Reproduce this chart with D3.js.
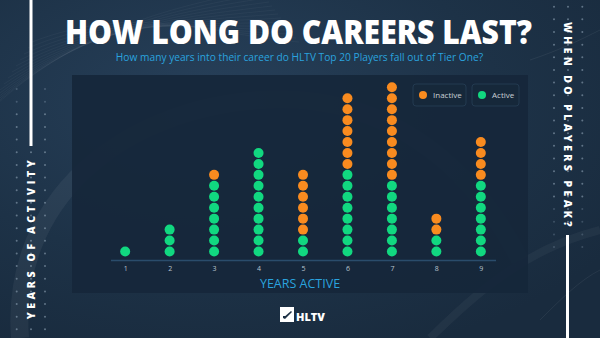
<!DOCTYPE html>
<html><head><meta charset="utf-8">
<script src="https://cdn.jsdelivr.net/npm/d3@7"></script>
<style>html,body{margin:0;padding:0;background:#1c3045;}svg{display:block;}</style>
</head><body>
<svg id="c" width="600" height="338"></svg>
<script>
const years = [1,2,3,4,5,6,7,8,9];
const activeCounts = [1,3,7,10,2,8,7,2,7];
const inactiveCounts = [0,0,1,0,6,7,9,2,4];
const legendLabels = ["Inactive","Active"];
const title = "HOW LONG DO CAREERS LAST?";
const subtitle = "How many years into their career do HLTV Top 20 Players fall out of Tier One?";
const xTitle = "YEARS ACTIVE";
const leftLabel = "YEARS OF ACTIVITY";
const rightLabel = "WHEN DO PLAYERS PEAK?";

const W=600,H=338;
const ORANGE="#f98b1f", GREEN="#11d880";
const svg=d3.select("#c");
const defs=svg.append("defs");
const bg=defs.append("radialGradient").attr("id","bg").attr("cx","35%").attr("cy","30%").attr("r","80%");
bg.append("stop").attr("offset","0%").attr("stop-color","#27405a");
bg.append("stop").attr("offset","60%").attr("stop-color","#1d3247");
bg.append("stop").attr("offset","100%").attr("stop-color","#192b3e");
svg.append("rect").attr("width",W).attr("height",H).attr("fill","url(#bg)");

// faint swirl texture
const sw=svg.append("g").attr("fill","none").attr("stroke","#ffffff");
for(let k=0;k<14;k++){
  sw.append("path").attr("d",`M${-20+k*4},${120-k*6} C${60+k*6},${40-k*3} ${150+k*5},${10+k*2} ${260+k*3},${-10+k*4}`)
    .attr("stroke-opacity",0.035).attr("stroke-width",1);
}
sw.append("path").attr("d","M20,338 C10,200 120,110 260,100 C380,92 470,160 520,260").attr("stroke-opacity",0.05).attr("stroke-width",18);
sw.append("path").attr("d","M430,338 C470,300 520,250 600,230").attr("stroke-opacity",0.04).attr("stroke-width",8);
sw.append("path").attr("d","M530,60 C560,50 580,40 600,30").attr("stroke-opacity",0.06).attr("stroke-width",1);
sw.append("path").attr("d","M540,320 C560,300 580,280 600,270").attr("stroke-opacity",0.06).attr("stroke-width",1);

// panel
svg.append("rect").attr("x",72).attr("y",75).attr("width",456).attr("height",218).attr("fill","#15273a").attr("fill-opacity",0.93);

// side dot grids
const dotG=svg.append("g").attr("fill","#8fa3b6");
d3.range(0,27).forEach(r=>{
  const y=89+r*12.65;
  if(y<H){
    [16.7,45].forEach(x=>dotG.append("circle").attr("cx",x).attr("cy",y).attr("r",1).attr("fill-opacity",y<110?0.35:0.6));
    if(y>150) dotG.append("circle").attr("cx",31).attr("cy",y).attr("r",1).attr("fill-opacity",0.6);
  }
});
d3.range(0,20).forEach(r=>{
  const y=6.7+r*12.65;
  if(y<250){
    [554,582.3].forEach(x=>dotG.append("circle").attr("cx",x).attr("cy",y).attr("r",1).attr("fill-opacity",y>200?0.3:0.6));
    if(y<230) dotG.append("circle").attr("cx",568).attr("cy",y).attr("r",1).attr("fill-opacity",0.6);
  }
});
// side lines
svg.append("rect").attr("x",29.5).attr("y",0).attr("width",3).attr("height",146).attr("fill","#ffffff");
svg.append("rect").attr("x",566).attr("y",235).attr("width",3).attr("height",103).attr("fill","#ffffff");

// side labels
svg.append("text").attr("transform","translate(35,238) rotate(-90)").attr("text-anchor","middle")
  .attr("font-family","Open Sans, sans-serif").attr("font-weight",800).attr("font-size",10.5).attr("letter-spacing",3.6)
  .attr("fill","#fff").text(leftLabel);
svg.append("text").attr("transform","translate(564,126) rotate(90)").attr("text-anchor","middle")
  .attr("font-family","Open Sans, sans-serif").attr("font-weight",800).attr("font-size",10.5).attr("letter-spacing",3.4)
  .attr("fill","#fff").text(rightLabel);

// title
svg.append("text").attr("x",65).attr("y",44).attr("textLength",467).attr("lengthAdjust","spacingAndGlyphs")
  .attr("font-family","Open Sans, sans-serif").attr("font-weight",800).attr("font-size",34)
  .attr("fill","#fff").text(title);
svg.append("text").attr("x",299.5).attr("y",61).attr("text-anchor","middle")
  .attr("font-family","Open Sans, sans-serif").attr("font-size",10.2)
  .attr("fill","#2aa3df").text(subtitle);

// scales
const x=d3.scalePoint().domain(years).range([110.5,495.5]).padding(0.33);
const y=d3.scaleLinear().domain([0,15]).range([251.5,87.3]);
const R=5;

// axis
const ax=svg.append("g").attr("transform","translate(0,260)")
  .call(d3.axisBottom(x).tickSize(0).tickPadding(6));
ax.select(".domain").attr("stroke","#2a4c6b").attr("stroke-width",1.5);
ax.selectAll("text").attr("font-family","Open Sans, sans-serif").attr("font-size",7).attr("fill","#b9c4ce");

svg.append("text").attr("x",300).attr("y",288).attr("text-anchor","middle")
  .attr("font-family","Open Sans, sans-serif").attr("font-size",12.5)
  .attr("fill","#2aa3df").text(xTitle);

// dots
const dots=[];
years.forEach((yr,i)=>{
  for(let j=0;j<activeCounts[i];j++) dots.push({yr,idx:j,c:GREEN});
  for(let j=0;j<inactiveCounts[i];j++) dots.push({yr,idx:activeCounts[i]+j,c:ORANGE});
});
svg.append("g").selectAll("circle").data(dots).join("circle")
  .attr("cx",d=>x(d.yr)).attr("cy",d=>y(d.idx)).attr("r",R).attr("fill",d=>d.c);

// legend
const leg=[{label:legendLabels[0],c:ORANGE,x:413,w:53},{label:legendLabels[1],c:GREEN,x:472,w:47}];
const lg=svg.append("g");
leg.forEach(l=>{
  lg.append("rect").attr("x",l.x).attr("y",84).attr("width",l.w).attr("height",22).attr("rx",3)
    .attr("fill","#16283a").attr("stroke","#233a50").attr("stroke-width",1);
  lg.append("circle").attr("cx",l.x+10).attr("cy",95).attr("r",4).attr("fill",l.c);
  lg.append("text").attr("x",l.x+20).attr("y",98).attr("font-family","Open Sans, sans-serif")
    .attr("font-size",8).attr("fill","#c9d0d6").text(l.label);
});

// HLTV logo
const lo=svg.append("g");
lo.append("rect").attr("x",280).attr("y",307).attr("width",14).attr("height",15).attr("fill","#ffffff");
lo.append("path").attr("d","M283,318 L291,311 L292,312 L285,319 Z").attr("fill","#1c3045");
lo.append("rect").attr("x",283).attr("y",316).attr("width",3).attr("height",2).attr("fill","#1c3045");
lo.append("text").attr("x",296).attr("y",320.5).attr("font-family","Open Sans, sans-serif").attr("font-weight",800)
  .attr("font-size",11).attr("fill","#fff").text("HLTV");
</script>
</body></html>
